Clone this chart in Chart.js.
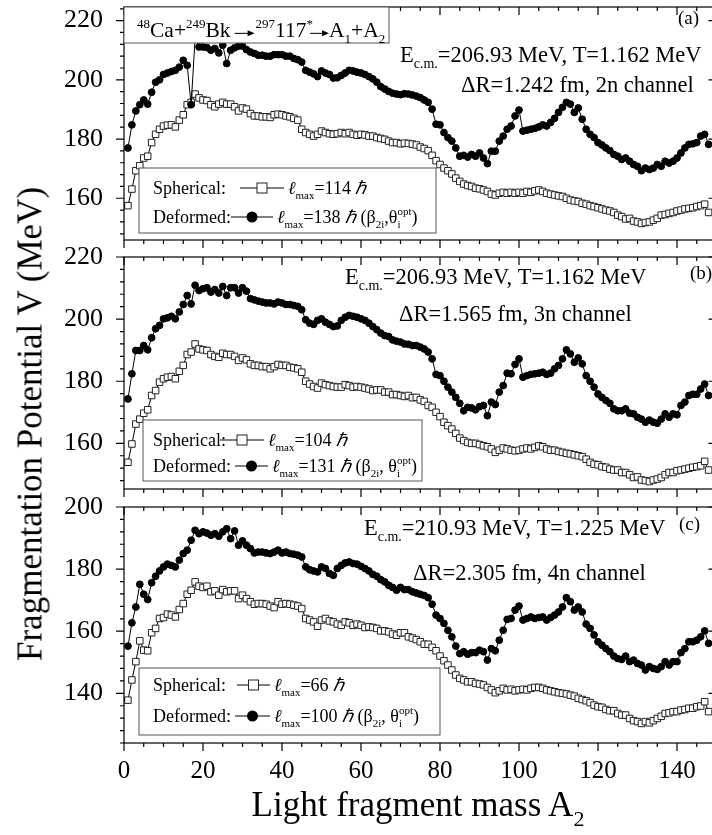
<!DOCTYPE html>
<html lang="en">
<head>
<meta charset="UTF-8">
<title>Fragmentation Potential</title>
<script src="https://cdn.jsdelivr.net/npm/chart.js"></script>
<style>
    body {
        margin: 0;
        width: 712px;
        height: 835px;
        overflow: hidden;
        position: relative;
        background: #fff;
        font-family: "Liberation Serif", "Times New Roman", serif;
        color: #000;
    }
    canvas { position: absolute; left: 0; }
    #ytitle {
        position: absolute; left: 30px; top: 424px;
        transform: translate(-50%, -50%) rotate(-90deg);
        font-size: 35px; line-height: 1; white-space: nowrap;
    }
    #xtitle {
        position: absolute; left: 418px; top: 787px;
        transform: translateX(-50%);
        font-size: 35px; line-height: 1; white-space: nowrap;
    }
    #xtitle sub { font-size: 22px; vertical-align: -10px; line-height: 0; }
</style>
</head>
<body>
<canvas id="panelA"></canvas>
<canvas id="panelB"></canvas>
<canvas id="panelC"></canvas>
<div id="ytitle">Fragmentation Potential V (MeV)</div>
<div id="xtitle">Light fragment mass A<sub>2</sub></div>

<script>
// light fragment mass A2
const massA2 = [1,2,3,4,5,6,7,8,9,10,11,12,13,14,15,16,17,18,19,20,
    21,22,23,24,25,26,27,28,29,30,31,32,33,34,35,36,37,38,39,40,
    41,42,43,44,45,46,47,48,49,50,51,52,53,54,55,56,57,58,59,60,
    61,62,63,64,65,66,67,68,69,70,71,72,73,74,75,76,77,78,79,80,
    81,82,83,84,85,86,87,88,89,90,91,92,93,94,95,96,97,98,99,100,
    101,102,103,104,105,106,107,108,109,110,111,112,113,114,115,116,117,118,119,120,
    121,122,123,124,125,126,127,128,129,130,131,132,133,134,135,136,137,138,139,140,
    141,142,143,144,145,146,147,148];

// (a) 2n channel
const deformedA = [177.0,184.8,189.5,191.6,193.2,191.8,195.8,199.2,200.0,201.8,
    202.3,202.8,203.2,204.3,206.6,204.9,191.6,214.0,211.1,211.1,
    210.9,210.0,210.6,209.1,211.7,205.5,210.0,210.8,211.4,211.4,
    210.2,209.4,208.9,208.3,208.3,208.0,208.0,208.5,208.5,208.5,
    208.0,208.0,207.2,206.8,206.0,203.2,202.6,202.0,201.1,203.0,
    202.3,201.8,200.6,200.7,201.5,202.3,203.2,203.0,202.6,202.3,
    201.8,201.1,200.3,199.2,197.7,196.9,196.1,195.5,195.2,195.0,
    195.3,195.2,194.9,194.5,194.0,193.2,192.4,190.1,185.0,184.8,
    182.2,180.5,179.3,177.0,174.2,174.5,173.9,174.8,174.2,175.3,
    173.6,171.7,175.9,175.9,179.3,181.0,183.3,184.4,187.8,189.8,
    182.7,183.0,183.3,183.6,184.1,184.8,184.4,185.6,187.0,189.0,
    190.7,192.4,191.8,189.0,190.5,186.7,183.3,181.6,180.5,178.8,
    178.0,177.0,176.1,174.8,174.2,173.1,173.6,172.5,171.4,170.8,
    169.3,170.2,169.7,170.2,171.4,170.8,172.5,171.9,172.5,173.6,
    175.3,177.0,178.2,178.4,178.8,181.0,181.6,178.2];
const sphericalA = [157.5,163.1,169.3,171.0,173.6,174.2,178.8,181.6,183.3,184.4,
    184.7,184.8,184.1,186.4,188.2,191.6,192.4,195.2,193.9,193.2,
    193.0,191.6,190.9,191.8,192.4,191.8,191.8,190.9,189.5,190.5,
    190.1,188.6,187.8,187.8,187.5,187.5,187.3,188.2,188.4,188.2,
    187.8,187.5,187.0,186.4,183.3,182.2,181.6,181.0,181.6,182.7,
    182.2,181.8,181.6,181.8,182.2,181.8,182.2,181.6,181.3,181.6,
    181.4,181.0,181.0,180.5,180.2,179.9,179.3,178.8,178.8,178.4,
    178.6,178.5,178.3,178.0,177.3,176.8,176.1,174.5,172.7,171.4,
    170.2,169.3,168.2,166.8,165.7,164.8,164.3,164.0,163.4,163.2,
    162.8,162.3,161.4,161.1,161.7,162.0,161.7,162.0,161.7,162.0,
    161.7,162.3,162.0,162.5,162.8,162.3,161.7,161.4,161.1,160.8,
    160.6,160.0,159.4,159.1,158.9,158.3,158.0,157.5,157.2,156.8,
    156.4,156.0,155.7,155.2,154.3,153.8,153.0,153.2,152.3,152.0,
    151.5,151.8,152.0,152.6,153.2,154.3,154.5,154.9,155.2,155.7,
    156.0,156.4,156.6,156.8,157.2,157.5,158.0,155.2];

// (b) 3n channel
const deformedB = [174.3,182.4,189.9,189.9,191.5,190.1,194.0,196.9,198.0,200.1,
    200.4,200.9,200.1,202.3,204.7,207.6,204.9,210.9,209.2,209.8,
    210.1,208.7,209.5,208.4,210.5,207.6,210.1,210.1,208.4,210.1,
    209.0,206.6,206.2,205.8,205.5,205.2,205.2,204.9,205.5,205.2,
    204.7,204.7,204.4,204.1,203.0,199.8,198.7,198.3,199.6,200.1,
    199.0,198.3,197.6,197.8,199.6,200.6,201.2,200.9,200.6,200.1,
    199.6,198.7,197.6,196.6,195.5,194.7,194.4,193.3,192.9,192.6,
    192.0,191.9,191.5,191.5,191.0,190.4,189.4,187.2,182.2,181.8,
    180.0,178.1,176.5,174.8,172.9,170.5,171.6,171.4,170.8,171.8,
    172.2,168.9,173.3,172.5,176.5,178.6,182.6,182.4,185.4,187.2,
    181.3,181.8,182.2,182.4,182.6,182.9,182.2,182.6,184.0,185.1,
    187.2,190.1,188.8,186.1,187.5,185.6,181.8,180.0,178.1,175.9,
    174.8,173.8,172.9,171.1,170.5,170.5,171.1,169.7,169.5,168.4,
    167.8,166.8,167.5,166.8,166.5,167.8,169.5,168.4,169.5,169.2,
    172.2,173.3,175.4,175.8,175.8,177.5,179.1,175.4];
const sphericalB = [153.9,159.8,166.2,167.8,169.7,170.8,175.4,177.0,179.7,180.8,
    181.3,181.5,180.8,183.2,185.1,188.6,189.4,192.0,190.4,190.1,
    189.9,188.6,188.0,187.7,189.0,188.6,188.6,188.0,186.7,187.5,
    186.9,185.6,185.1,185.1,184.7,184.7,184.0,184.7,185.4,185.1,
    185.1,184.5,184.3,184.0,182.9,180.0,179.1,178.3,177.8,179.4,
    178.9,178.6,178.3,178.1,178.1,178.9,178.6,178.1,178.3,178.1,
    177.8,177.5,177.0,177.2,177.2,176.5,176.5,175.7,175.7,175.4,
    175.1,175.4,174.7,174.8,174.0,173.5,172.2,171.6,170.0,168.6,
    166.8,165.7,164.6,163.2,161.7,160.9,160.3,160.0,160.0,159.6,
    159.2,158.9,158.2,157.1,157.8,158.5,158.2,157.8,157.6,157.8,
    158.2,158.5,158.2,158.7,159.2,158.9,158.2,157.8,157.8,157.4,
    157.1,156.8,156.6,156.3,156.0,155.7,154.9,153.9,153.3,153.1,
    152.5,152.3,151.7,151.4,151.4,150.6,150.6,149.9,149.0,149.2,
    148.2,148.0,147.7,148.2,148.5,149.0,149.9,150.6,150.6,151.2,
    151.4,151.7,152.0,152.3,152.5,152.8,154.2,151.4];

// (c) 4n channel
const deformedC = [155.2,162.7,167.8,175.1,171.9,170.2,175.6,177.7,179.4,180.7,
    181.6,181.2,180.7,182.9,185.0,186.1,189.3,192.5,191.4,192.0,
    191.6,190.9,191.4,190.6,192.0,193.0,189.8,192.3,187.7,189.1,
    187.7,186.6,185.2,185.5,185.5,185.2,185.0,185.5,186.1,185.2,
    185.5,185.0,184.8,184.5,183.9,180.7,179.8,179.4,179.1,180.7,
    180.2,178.6,178.0,180.2,181.2,182.0,182.3,181.8,181.6,180.9,
    180.2,179.4,178.3,177.7,176.6,175.9,174.8,174.1,173.2,174.1,
    173.4,173.4,172.7,172.3,171.9,171.5,170.8,168.7,165.2,164.1,
    162.5,160.3,158.2,155.2,152.8,153.4,152.6,153.1,153.1,153.9,
    153.4,150.7,154.4,153.7,157.1,160.3,163.8,164.1,166.8,168.1,
    163.6,164.1,164.6,164.1,164.4,164.6,163.6,164.4,165.2,166.2,
    167.8,170.8,169.5,166.8,167.8,166.2,162.3,160.9,158.8,156.6,
    155.5,154.4,153.4,152.0,151.2,150.9,152.0,150.2,150.7,149.6,
    149.1,147.5,148.6,148.0,147.7,148.6,150.2,149.1,150.2,150.2,
    153.1,154.4,156.6,156.6,157.1,158.2,160.1,156.1];
const sphericalC = [137.8,144.3,150.2,156.9,153.9,153.7,159.5,160.9,164.1,164.4,
    165.5,165.2,164.6,167.0,168.9,171.9,173.2,175.9,174.5,174.1,
    174.5,172.7,173.0,171.6,173.4,172.7,173.0,173.0,170.5,171.6,
    170.5,169.5,168.7,168.9,168.9,168.7,168.1,167.6,169.5,168.7,
    168.9,168.7,168.4,168.1,167.3,164.1,163.6,163.0,161.6,163.6,
    164.1,163.3,163.0,162.3,161.9,163.0,162.7,161.9,162.3,161.9,
    161.2,161.4,161.2,160.9,160.1,160.1,159.8,159.1,158.7,159.5,
    159.5,158.2,157.8,157.3,156.6,155.8,155.8,154.8,153.7,152.0,
    150.5,149.1,147.5,145.9,144.8,144.3,143.7,143.7,143.2,143.0,
    142.7,141.9,141.1,140.2,140.8,141.6,141.1,141.3,140.8,141.1,
    141.3,141.1,141.6,141.9,141.9,141.6,141.1,140.8,140.5,140.2,
    140.0,139.8,139.4,139.1,138.4,138.0,137.6,137.0,136.2,135.7,
    135.5,134.8,134.4,134.4,133.5,133.0,133.0,131.9,131.2,130.9,
    130.3,130.9,130.5,131.2,131.9,132.6,133.5,133.7,134.1,134.1,
    134.6,134.8,135.2,135.2,135.7,135.9,137.3,134.1];

// tick labels
const xTicks = [0, 20, 40, 60, 80, 100, 120, 140];
const yTicksA = [160, 180, 200, 220];
const yTicksB = [160, 180, 200, 220];
const yTicksC = [140, 160, 180, 200];

const FONT = '"Liberation Serif", "Times New Roman", serif';
const CANVAS_W = 760;
const PLOT_LEFT = 124;
const PLOT_RIGHT = 716.5;
const MARGIN = 40;
const TEXT_SIZE = 22.5;
const LEGEND_SIZE = 18;

function toPoints(ys) {
    return massA2.map((a, i) => ({ x: a, y: ys[i] }));
}

// draws a run of text pieces: normal, sub, sup, italic, sub+sup, gaps and arrows
function drawRich(ctx, x, y, parts, size) {
    const small = Math.round(size * 0.62);
    ctx.textBaseline = 'alphabetic';
    ctx.textAlign = 'left';
    for (const [t, kind] of parts) {
        if (kind === 'gap') { x += t; continue; }
        if (kind === 'arrow') {
            const ay = y - size * 0.17;
            ctx.beginPath();
            ctx.moveTo(x, ay); ctx.lineTo(x + t - 5, ay);
            ctx.lineWidth = 1; ctx.strokeStyle = '#000'; ctx.stroke();
            ctx.beginPath();
            ctx.moveTo(x + t, ay); ctx.lineTo(x + t - 7, ay - 3); ctx.lineTo(x + t - 7, ay + 3);
            ctx.closePath(); ctx.fill();
            x += t;
            continue;
        }
        if (kind === 'subsup') {
            ctx.font = `${small}px ${FONT}`;
            ctx.fillText(t[0], x, y + size * 0.28);
            ctx.fillText(t[1], x, y - size * 0.42);
            x += Math.max(ctx.measureText(t[0]).width, ctx.measureText(t[1]).width);
            continue;
        }
        let f = size, dy = 0, style = '';
        if (kind === 'sub') { f = small; dy = size * 0.28; }
        if (kind === 'sup') { f = small; dy = -size * 0.42; }
        if (kind === 'it') style = 'italic ';
        ctx.font = `${style}${f}px ${FONT}`;
        ctx.fillText(t, x, y + dy);
        x += ctx.measureText(t).width;
    }
    return x;
}

function decor(cfg, canvasTop) {
    return {
        id: 'decor' + cfg.id,
        afterDraw(chart) {
            const { ctx, chartArea: a, scales: { x, y } } = chart;
            ctx.save();
            ctx.fillStyle = '#000';
            ctx.strokeStyle = '#000';
            ctx.lineWidth = 1.2;
            ctx.strokeRect(a.left, a.top, a.right - a.left, a.bottom - a.top);
            ctx.beginPath();
            for (let v = Math.ceil(cfg.yMin / 4) * 4; v <= cfg.yMax; v += 4) {
                const py = y.getPixelForValue(v);
                const len = v % 20 === 0 ? 8 : 4;
                ctx.moveTo(a.left - len, py); ctx.lineTo(a.left, py);
                ctx.moveTo(a.right - len, py); ctx.lineTo(a.right, py);
            }
            for (let v = 0; v <= 150; v += 5) {
                const px = x.getPixelForValue(v);
                const len = v % 20 === 0 ? 8 : 4;
                ctx.moveTo(px, a.bottom); ctx.lineTo(px, a.bottom + len);
                ctx.moveTo(px, a.top); ctx.lineTo(px, a.top + len);
            }
            ctx.stroke();

            ctx.translate(0, -canvasTop);

            if (cfg.titleBox) {
                const b = cfg.titleBox;
                ctx.fillStyle = '#fff';
                ctx.fillRect(b.box[0], b.box[1], b.box[2] - b.box[0], b.box[3] - b.box[1]);
                ctx.strokeStyle = '#555'; ctx.lineWidth = 1;
                ctx.strokeRect(b.box[0], b.box[1], b.box[2] - b.box[0], b.box[3] - b.box[1]);
                ctx.fillStyle = '#000';
                drawRich(ctx, b.x, b.y, b.parts, b.size);
            }

            for (const t of cfg.texts) {
                ctx.fillStyle = '#000';
                drawRich(ctx, t.x, t.y, t.parts, t.size);
            }

            const lg = cfg.legend;
            ctx.fillStyle = '#fff';
            ctx.fillRect(lg.box[0], lg.box[1], lg.box[2] - lg.box[0], lg.box[3] - lg.box[1]);
            ctx.strokeStyle = '#555'; ctx.lineWidth = 1;
            ctx.strokeRect(lg.box[0], lg.box[1], lg.box[2] - lg.box[0], lg.box[3] - lg.box[1]);
            for (const r of lg.rows) {
                ctx.fillStyle = '#000';
                drawRich(ctx, 153, r.y, [[r.label, '']], LEGEND_SIZE);
                const ly = r.y - 6;
                const mx = (r.line[0] + r.line[1]) / 2;
                ctx.strokeStyle = '#000'; ctx.lineWidth = 1;
                ctx.beginPath(); ctx.moveTo(r.line[0], ly); ctx.lineTo(r.line[1], ly); ctx.stroke();
                if (r.marker === 'rect') {
                    ctx.fillStyle = '#fff';
                    ctx.fillRect(mx - 5, ly - 5, 10, 10);
                    ctx.strokeStyle = '#222';
                    ctx.strokeRect(mx - 5, ly - 5, 10, 10);
                } else {
                    ctx.fillStyle = '#000';
                    ctx.beginPath(); ctx.arc(mx, ly, 5.5, 0, Math.PI * 2); ctx.fill();
                }
                ctx.fillStyle = '#000';
                drawRich(ctx, r.line[1] + 4, r.y, r.parts, LEGEND_SIZE);
            }
            ctx.restore();
        }
    };
}

function makePanel(cfg) {
    const canvas = document.getElementById('panel' + cfg.id);
    const canvasTop = cfg.top - MARGIN;
    const axisH = cfg.xLabels ? 50 : 0;   // tick labels are clipped to the axis box
    canvas.width = CANVAS_W;
    canvas.height = (cfg.bottom - cfg.top) + MARGIN + cfg.below;
    canvas.style.top = canvasTop + 'px';

    return new Chart(canvas.getContext('2d'), {
        type: 'line',
        data: {
            datasets: [
                {
                    label: 'Deformed',
                    data: toPoints(cfg.deformed),
                    borderColor: '#000', borderWidth: 1, tension: 0,
                    pointStyle: 'circle', pointRadius: 3.4,
                    pointBackgroundColor: '#000', pointBorderColor: '#000', pointBorderWidth: 1
                },
                {
                    label: 'Spherical',
                    data: toPoints(cfg.spherical),
                    borderColor: '#000', borderWidth: 1, tension: 0,
                    pointStyle: 'rect', pointRadius: 4.6,
                    pointBackgroundColor: '#fff', pointBorderColor: '#222', pointBorderWidth: 1
                }
            ]
        },
        options: {
            responsive: false,
            animation: false,
            events: [],
            layout: { padding: { top: MARGIN, left: 0, right: CANVAS_W - PLOT_RIGHT, bottom: cfg.below - axisH } },
            plugins: { legend: { display: false }, tooltip: { enabled: false } },
            scales: {
                x: {
                    type: 'linear', min: 0, max: 150,
                    grid: { display: false }, border: { display: false },
                    afterBuildTicks: s => { s.ticks = xTicks.map(v => ({ value: v })); },
                    afterFit: s => { s.height = axisH; },
                    ticks: {
                        display: cfg.xLabels, autoSkip: false, maxRotation: 0,
                        font: { family: FONT, size: 25 }, color: '#000', padding: 5
                    }
                },
                y: {
                    min: cfg.yMin, max: cfg.yMax,
                    grid: { display: false }, border: { display: false },
                    afterBuildTicks: s => { s.ticks = cfg.yTicks.map(v => ({ value: v })); },
                    afterFit: s => { s.width = PLOT_LEFT; },
                    ticks: { font: { family: FONT, size: 26 }, color: '#000', padding: 13 }
                }
            }
        },
        plugins: [decor(cfg, canvasTop)]
    });
}

const ecm = (e, t) => [['E', ''], ['c.m.', 'sub'], ['=' + e + ' MeV, T=' + t + ' MeV', '']];

makePanel({
    id: 'A', top: 7, bottom: 240, below: 40, xLabels: false,
    yMin: 145.9, yMax: 224.6, yTicks: yTicksA,
    deformed: deformedA, spherical: sphericalA,
    titleBox: {
        box: [124, 7, 389, 43], x: 137, y: 37, size: 21.5,
        parts: [['48', 'sup'], ['Ca+', ''], ['249', 'sup'], ['Bk', ''], [4, 'gap'], [20, 'arrow'],
            [1, 'gap'], ['297', 'sup'], ['117', ''], ['*', 'sup'], [-3, 'gap'], [19, 'arrow'],
            ['A', ''], ['1', 'sub'], ['+A', ''], ['2', 'sub']]
    },
    texts: [
        { x: 400, y: 62, size: TEXT_SIZE, parts: ecm('206.93', '1.162') },
        { x: 461, y: 92, size: TEXT_SIZE, parts: [['\u0394R=1.242 fm, 2n channel', '']] },
        { x: 678, y: 24, size: 19, parts: [['(a)', '']] }
    ],
    legend: {
        box: [139, 168, 436, 233],
        rows: [
            { label: 'Spherical:', y: 194, line: [240, 284], marker: 'rect',
              parts: [['\u2113', 'it'], ['max', 'sub'], ['=114 ', ''], ['\u210F', 'it']] },
            { label: 'Deformed:', y: 223, line: [231, 273], marker: 'circle',
              parts: [['\u2113', 'it'], ['max', 'sub'], ['=138 ', ''], ['\u210F', 'it'], [' (\u03B2', ''], ['2i', 'sub'],
                  [',\u03B8', ''], [['i', 'opt'], 'subsup'], [')', '']] }
        ]
    }
});

makePanel({
    id: 'B', top: 257, bottom: 489, below: 40, xLabels: false,
    yMin: 145.3, yMax: 220, yTicks: yTicksB,
    deformed: deformedB, spherical: sphericalB,
    texts: [
        { x: 345, y: 284, size: TEXT_SIZE, parts: ecm('206.93', '1.162') },
        { x: 399, y: 321, size: TEXT_SIZE, parts: [['\u0394R=1.565 fm, 3n channel', '']] },
        { x: 690, y: 279, size: 19, parts: [['(b)', '']] }
    ],
    legend: {
        box: [143, 420, 422, 481],
        rows: [
            { label: 'Spherical:', y: 446, line: [220, 264], marker: 'rect',
              parts: [['\u2113', 'it'], ['max', 'sub'], ['=104 ', ''], ['\u210F', 'it']] },
            { label: 'Deformed:', y: 472, line: [235, 268], marker: 'circle',
              parts: [['\u2113', 'it'], ['max', 'sub'], ['=131 ', ''], ['\u210F', 'it'], [' (\u03B2', ''], ['2i', 'sub'],
                  [', \u03B8', ''], [['i', 'opt'], 'subsup'], [')', '']] }
        ]
    }
});

makePanel({
    id: 'C', top: 507, bottom: 743, below: 100, xLabels: true,
    yMin: 124, yMax: 200, yTicks: yTicksC,
    deformed: deformedC, spherical: sphericalC,
    texts: [
        { x: 364, y: 535, size: TEXT_SIZE, parts: ecm('210.93', '1.225') },
        { x: 413, y: 580, size: TEXT_SIZE, parts: [['\u0394R=2.305 fm, 4n channel', '']] },
        { x: 679, y: 530, size: 19, parts: [['(c)', '']] }
    ],
    legend: {
        box: [139, 668, 440, 735],
        rows: [
            { label: 'Spherical:', y: 691, line: [237, 270], marker: 'rect',
              parts: [['\u2113', 'it'], ['max', 'sub'], ['=66 ', ''], ['\u210F', 'it']] },
            { label: 'Deformed:', y: 722, line: [235, 270], marker: 'circle',
              parts: [['\u2113', 'it'], ['max', 'sub'], ['=100 ', ''], ['\u210F', 'it'], [' (\u03B2', ''], ['2i', 'sub'],
                  [', \u03B8', ''], [['i', 'opt'], 'subsup'], [')', '']] }
        ]
    }
});
</script>
</body>
</html>
